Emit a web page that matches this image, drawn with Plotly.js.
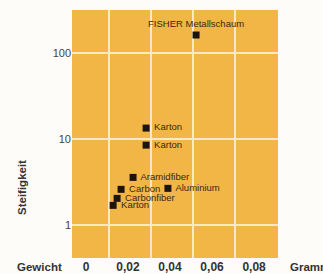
<!DOCTYPE html>
<html><head><meta charset="utf-8">
<script src="https://cdn.plot.ly/plotly-3.0.1.min.js"></script>
<style>html,body{margin:0;padding:0;background:#fdfcf9;}#chart{width:323px;height:274px;}</style>
</head><body><div id="chart"></div>
<script>
const materials = ["FISHER Metallschaum","Karton","Karton","Aramidfiber","Carbon","Aluminium","Carbonfiber","Karton"];
const weights   = [0.0524, 0.0286, 0.0286, 0.0224, 0.0167, 0.0390, 0.0148, 0.0129];
const stiffness = [161, 13.4, 8.5, 3.59, 2.61, 2.68, 2.05, 1.70];
const xTickVals = [0, 0.02, 0.04, 0.06, 0.08];
const xTickText = ["0","0,02","0,04","0,06","0,08"];
const xGridVals = [0.011, 0.031, 0.051, 0.071];
const yTickVals = [1, 10, 100];
const yTickText = ["1","10","100"];

const positions = materials.map((m,i)=> i===0 ? "top center" : "middle right");
const labels = materials.map((m,i)=> i===0 ? m : " " + m);

const trace = {
  x: weights, y: stiffness, text: labels, mode: "markers+text", type: "scatter",
  textposition: positions,
  marker: {symbol: "square", size: 7, color: "#1c150e"},
  textfont: {family: "Liberation Sans, Arial, sans-serif", size: 9.5, color: "#3a2812"},
  cliponaxis: false, hoverinfo: "none"
};

const layout = {
  width: 323, height: 274,
  margin: {l: 72, r: 45, t: 10, b: 16, pad: 0},
  paper_bgcolor: "#fdfcf9", plot_bgcolor: "#f2b646",
  showlegend: false,
  xaxis: {
    range: [-0.00667, 0.0914], tickmode: "array", tickvals: xTickVals, ticktext: xTickText,
    showgrid: false, zeroline: false, showline: false, ticks: "",
    tickfont: {family: "Liberation Sans, Arial, sans-serif", size: 12, color: "#333", weight: "bold"},
    minor: {tickmode: "array", tickvals: xGridVals, showgrid: true, gridcolor: "#fbe9c4", gridwidth: 1.5, ticks: ""}
  },
  yaxis: {
    type: "log", range: [-0.38, 2.497], tickmode: "array", tickvals: yTickVals, ticktext: yTickText,
    showgrid: true, gridcolor: "#fbe9c4", gridwidth: 1.5, zeroline: false, showline: false, ticks: "",
    tickfont: {family: "Liberation Sans, Arial, sans-serif", size: 11, color: "#444"}
  },
  annotations: [
    {text: "<b>Gewicht</b>", xref: "paper", yref: "paper", x: -0.158, y: -0.036, xanchor: "center", yanchor: "middle", showarrow: false,
     font: {family: "Liberation Sans, Arial, sans-serif", size: 11.5, color: "#333"}},
    {text: "<b>Gramm</b>", xref: "paper", yref: "paper", x: 1.05, y: -0.036, xanchor: "left", yanchor: "middle", showarrow: false,
     font: {family: "Liberation Sans, Arial, sans-serif", size: 11.5, color: "#333"}},
    {text: "<b>Steifigkeit</b>", xref: "paper", yref: "paper", x: -0.243, y: 0.286, xanchor: "center", yanchor: "middle", showarrow: false, textangle: -90,
     font: {family: "Liberation Sans, Arial, sans-serif", size: 11.5, color: "#333"}}
  ]
};
Plotly.newPlot("chart", [trace], layout, {displayModeBar: false, staticPlot: true});
</script></body></html>
